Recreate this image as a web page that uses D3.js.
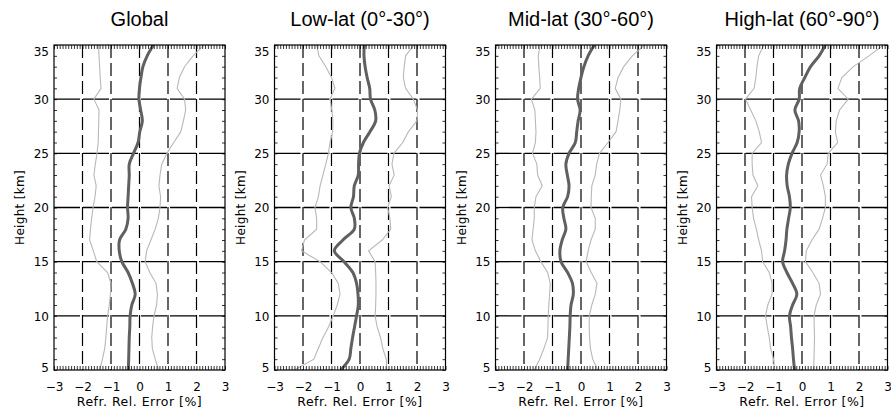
<!DOCTYPE html>
<html>
<head>
<meta charset="utf-8">
<script src="https://cdn.jsdelivr.net/npm/d3@7"></script>
<style>
  body { margin: 0; background: #fff; }
</style>
</head>
<body>
<div id="plotDiv"></div>
<script>
// heights of the profiles, km (bottom to top)
const heights = [5,6,7,8,9,10,11,12,13,14,15,16,17,18,19,20,21,22,23,24,25,26,27,28,29,30,31,32,33,34,35];

const panelTitles = ["Global", "Low-lat (0°-30°)", "Mid-lat (30°-60°)", "High-lat (60°-90°)"];
const xTickValues = [-3,-2,-1,0,1,2,3];
const yTickValues = [5,10,15,20,25,30,35];
const xGridValues = [-2,-1,0,1,2];
const yGridValues = [10,15,20,25,30];

// mean refractivity error [%] and the two spread curves, one value per height
const globalMean = [-0.39,-0.38,-0.37,-0.36,-0.34,-0.33,-0.27,-0.15,-0.25,-0.40,-0.62,-0.71,-0.70,-0.48,-0.40,-0.42,-0.40,-0.38,-0.36,-0.36,-0.21,-0.05,0.01,0.10,0.04,-0.02,0.0,0.05,0.12,0.27,0.49];
const globalLow  = [-1.40,-1.30,-1.22,-1.18,-1.15,-1.12,-1.06,-1.02,-1.00,-1.12,-1.50,-1.62,-1.75,-1.72,-1.68,-1.63,-1.56,-1.52,-1.60,-1.55,-1.49,-1.45,-1.44,-1.43,-1.42,-1.60,-1.35,-1.38,-1.40,-1.42,-1.44];
const globalHigh = [0.67,0.55,0.45,0.43,0.46,0.51,0.60,0.63,0.58,0.36,0.20,0.25,0.40,0.55,0.66,0.72,0.74,0.68,0.72,0.78,0.96,1.20,1.45,1.54,1.62,1.58,1.32,1.40,1.58,1.88,2.26];

const lowMean = [-0.68,-0.38,-0.32,-0.26,-0.19,-0.12,-0.06,-0.07,-0.12,-0.25,-0.56,-0.90,-0.60,-0.20,-0.20,-0.32,-0.23,-0.20,-0.06,-0.05,-0.02,0.12,0.35,0.55,0.52,0.37,0.34,0.25,0.18,0.14,0.15];
const lowLow  = [-2.30,-1.62,-1.46,-1.30,-1.10,-0.94,-0.80,-0.70,-0.76,-1.00,-1.40,-2.05,-1.95,-1.52,-1.52,-1.58,-1.46,-1.40,-1.30,-1.20,-1.11,-1.05,-0.96,-0.95,-0.99,-1.05,-0.88,-1.00,-1.20,-1.44,-1.52];
const lowHigh = [0.94,0.92,0.80,0.72,0.60,0.53,0.55,0.56,0.56,0.55,0.53,0.30,0.78,1.08,1.05,0.97,1.10,1.02,1.20,1.12,1.19,1.50,1.70,2.00,2.02,1.87,1.60,1.52,1.55,1.60,1.89];

const midMean = [-0.47,-0.45,-0.43,-0.41,-0.39,-0.38,-0.35,-0.27,-0.30,-0.47,-0.70,-0.74,-0.66,-0.53,-0.60,-0.64,-0.47,-0.42,-0.48,-0.53,-0.42,-0.20,-0.15,-0.10,-0.03,-0.12,-0.08,0.0,0.10,0.25,0.47];
const midLow  = [-1.64,-1.45,-1.30,-1.17,-1.16,-1.15,-1.13,-1.10,-1.08,-1.17,-1.41,-1.60,-1.72,-1.68,-1.64,-1.64,-1.58,-1.36,-1.52,-1.55,-1.70,-1.60,-1.58,-1.60,-1.62,-1.74,-1.43,-1.45,-1.48,-1.50,-1.43];
const midHigh = [0.59,0.41,0.33,0.30,0.29,0.29,0.38,0.50,0.56,0.36,0.18,0.25,0.35,0.50,0.50,0.35,0.36,0.38,0.50,0.55,0.65,0.95,1.23,1.30,1.36,1.40,1.20,1.30,1.50,1.80,2.23];

const highMean = [-0.26,-0.30,-0.33,-0.37,-0.40,-0.44,-0.33,-0.18,-0.33,-0.53,-0.68,-0.61,-0.56,-0.53,-0.47,-0.41,-0.44,-0.52,-0.54,-0.48,-0.35,-0.17,-0.10,-0.12,-0.25,-0.10,-0.08,0.10,0.30,0.60,0.82];
const highLow  = [-0.96,-1.00,-1.10,-1.15,-1.22,-1.28,-1.20,-1.05,-1.05,-1.15,-1.38,-1.42,-1.52,-1.60,-1.70,-1.75,-1.77,-1.55,-1.72,-1.75,-1.75,-1.42,-1.50,-1.62,-1.80,-1.98,-1.68,-1.62,-1.58,-1.52,-1.34];
const highHigh = [0.41,0.42,0.43,0.44,0.43,0.42,0.50,0.65,0.60,0.38,0.12,0.15,0.35,0.60,0.72,0.82,0.82,0.75,0.65,0.88,0.92,1.25,1.17,1.20,1.32,1.62,1.26,1.40,1.80,2.35,2.86];

const panels = [
  {title: panelTitles[0], mean: globalMean, low: globalLow, high: globalHigh},
  {title: panelTitles[1], mean: lowMean, low: lowLow, high: lowHigh},
  {title: panelTitles[2], mean: midMean, low: midLow, high: midHigh},
  {title: panelTitles[3], mean: highMean, low: highLow, high: highHigh}
];

// --- layout ---
const width = 891, height = 412;
const panelLefts = [54, 274.5, 495.5, 716.5];
const plotW = 171;
const plotTop = 45, plotBottom = 370;
const smallFont = "'DejaVu Sans', sans-serif";

const svg = d3.select("#plotDiv").append("svg")
  .attr("width", width)
  .attr("height", height);

// scales are shared, each panel is just translated
const x = d3.scaleLinear().domain([-3, 3]).range([0, plotW]);
const y = d3.scaleLinear().domain([5, 35]).range([plotBottom - plotTop, 0]);
const h = plotBottom - plotTop;

const minorX = d3.range(-30, 31).map(d => d / 10);
const minorY = d3.range(5, 36);

panels.forEach(function(p, i) {
  const g = svg.append("g")
    .attr("transform", `translate(${panelLefts[i]},${plotTop})`);

  // grid lines
  g.selectAll(".vgrid").data(xGridValues).enter().append("line")
    .attr("x1", d => x(d)).attr("x2", d => x(d))
    .attr("y1", 0).attr("y2", h)
    .attr("stroke", "#000").attr("stroke-width", 1.2)
    .attr("stroke-dasharray", "13,5");

  g.selectAll(".hgrid").data(yGridValues).enter().append("line")
    .attr("x1", 0).attr("x2", plotW)
    .attr("y1", d => y(d)).attr("y2", d => y(d))
    .attr("stroke", "#000").attr("stroke-width", 1.3)
    .attr("stroke-dasharray", "26,3");

  // profiles
  const lineOf = vals => d3.line()
    .x((d, k) => x(vals[k]))
    .y(d => y(d));

  const clipId = "clip" + i;
  g.append("clipPath").attr("id", clipId).append("rect")
    .attr("width", plotW).attr("height", h);

  const curves = g.append("g").attr("clip-path", `url(#${clipId})`);
  [p.low, p.high].forEach(function(vals) {
    curves.append("path")
      .attr("d", lineOf(vals)(heights))
      .attr("fill", "none")
      .attr("stroke", "#b8b8b8")
      .attr("stroke-width", 1.1);
  });
  curves.append("path")
    .attr("d", lineOf(p.mean).curve(d3.curveCatmullRom)(heights))
    .attr("fill", "none")
    .attr("stroke", "#606060")
    .attr("stroke-width", 3);

  // minor ticks all round (inward)
  g.append("g").call(d3.axisTop(x).tickValues(minorX).tickSize(-4).tickFormat(""))
    .call(a => a.select(".domain").remove());
  g.append("g").attr("transform", `translate(0,${h})`)
    .call(d3.axisBottom(x).tickValues(minorX).tickSize(-4).tickFormat(""))
    .call(a => a.select(".domain").remove());
  g.append("g").call(d3.axisLeft(y).tickValues(minorY).tickSize(-3).tickFormat(""))
    .call(a => a.select(".domain").remove());
  g.append("g").attr("transform", `translate(${plotW},0)`)
    .call(d3.axisRight(y).tickValues(minorY).tickSize(-3).tickFormat(""))
    .call(a => a.select(".domain").remove());
  g.selectAll(".tick line").attr("stroke", "#000").attr("stroke-width", 0.8);

  // frame
  g.append("rect")
    .attr("width", plotW).attr("height", h)
    .attr("fill", "none").attr("stroke", "#000").attr("stroke-width", 1.2);

  // tick labels
  const xl = g.append("g").attr("transform", `translate(0,${h})`)
    .call(d3.axisBottom(x).tickValues(xTickValues).tickSize(0).tickPadding(12)
      .tickFormat(d => d < 0 ? "\u2212" + Math.abs(d) : d));
  xl.select(".domain").remove();
  xl.selectAll("text").attr("font-family", smallFont).attr("font-size", 12).attr("fill", "#000");

  const yl = g.append("g")
    .call(d3.axisLeft(y).tickValues(yTickValues).tickSize(0).tickPadding(5));
  yl.select(".domain").remove();
  yl.selectAll("text").attr("font-family", smallFont).attr("font-size", 12).attr("fill", "#000")
    .attr("dy", d => d === 35 ? "0.85em" : (d === 5 ? "0.15em" : "0.35em"));

  // axis titles
  g.append("text")
    .attr("x", plotW / 2).attr("y", h + 36)
    .attr("text-anchor", "middle")
    .attr("font-family", smallFont).attr("font-size", 12.5)
    .attr("letter-spacing", 0.5)
    .text("Refr. Rel. Error [%]");

  g.append("text")
    .attr("transform", `translate(-30,${h / 2}) rotate(-90)`)
    .attr("text-anchor", "middle")
    .attr("font-family", smallFont).attr("font-size", 12)
    .attr("letter-spacing", 0.3)
    .text("Height [km]");

  // panel title
  svg.append("text")
    .attr("x", panelLefts[i] + plotW / 2).attr("y", 26)
    .attr("text-anchor", "middle")
    .attr("font-family", "'Liberation Sans', Arial, sans-serif")
    .attr("font-size", 20)
    .text(p.title);
});
</script>
</body>
</html>
